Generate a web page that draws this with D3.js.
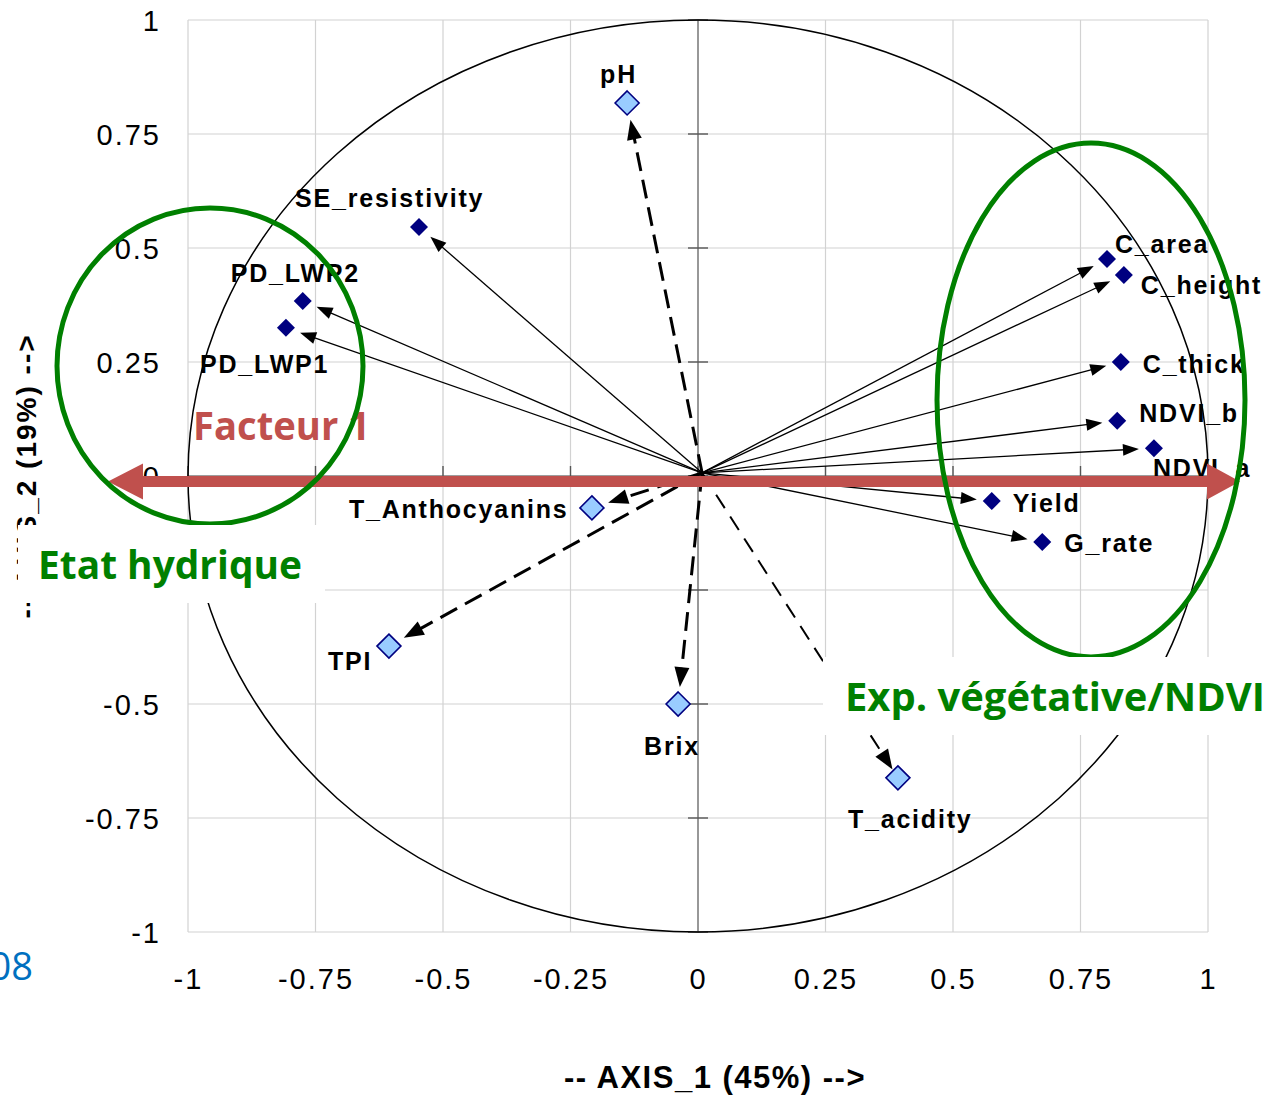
<!DOCTYPE html>
<html><head><meta charset="utf-8">
<script src="https://cdn.jsdelivr.net/npm/d3@7"></script>
<style>
html,body{margin:0;padding:0;background:#fff;}
svg{display:block;}
</style></head>
<body>
<svg id="chart" width="1286" height="1095"></svg>
<script>
// ---------- data ----------
const variables = ["pH","SE_resistivity","PD_LWP2","PD_LWP1","C_area","C_height","C_thick","NDVI_b","NDVI_a","Yield","G_rate","T_Anthocyanins","TPI","Brix","T_acidity"];
const axis1Values = [-0.139,-0.547,-0.775,-0.808,0.802,0.835,0.829,0.822,0.894,0.576,0.675,-0.208,-0.606,-0.039,0.392];
const axis2Values = [0.818,0.546,0.384,0.325,0.476,0.441,0.250,0.121,0.061,-0.055,-0.145,-0.070,-0.373,-0.500,-0.662];
const variableRole = ["supp","active","active","active","active","active","active","active","active","active","active","supp","supp","supp","supp"];
const arrowOrigin = [0.008, 0.007];
const tickValues = [-1,-0.75,-0.5,-0.25,0,0.25,0.5,0.75,1];
const tickLabels = ["-1","-0.75","-0.5","-0.25","0","0.25","0.5","0.75","1"];
const xTitle = "-- AXIS_1 (45%) -->";
const yTitle = "-- AXIS_2 (19%) -->";
const factorLabel = "Facteur 1";
const groupLabels = ["Etat hydrique","Exp. végétative/NDVI"];
const yearFragment = "2008";

// ---------- layout (pixels) ----------
const labelOffset = {
  "pH":[-27,-20], "SE_resistivity":[-124,-20], "PD_LWP2":[-72,-19], "PD_LWP1":[-86,45],
  "C_area":[8,-6], "C_height":[17,19], "C_thick":[22,11], "NDVI_b":[22,1], "NDVI_a":[-1,29],
  "Yield":[21,11], "G_rate":[22,10], "T_Anthocyanins":[-243,10], "TPI":[-61,24],
  "Brix":[-34,51], "T_acidity":[-50,50]
};

const svg = d3.select("#chart");
const x = d3.scaleLinear().domain([-1,1]).range([188,1208]);
const y = d3.scaleLinear().domain([-1,1]).range([932,20]);

const data = variables.map((n,i)=>({name:n, v1:axis1Values[i], v2:axis2Values[i], role:variableRole[i]}));

// grid
const grid = svg.append("g");
tickValues.forEach(t=>{
  grid.append("line").attr("x1",x(t)).attr("x2",x(t)).attr("y1",y(1)).attr("y2",y(-1))
    .attr("stroke","#d2d2d2").attr("stroke-width",1.2);
  grid.append("line").attr("y1",y(t)).attr("y2",y(t)).attr("x1",x(-1)).attr("x2",x(1))
    .attr("stroke","#d2d2d2").attr("stroke-width",1.2);
});
// zero axes
grid.append("line").attr("x1",x(0)).attr("x2",x(0)).attr("y1",y(1)).attr("y2",y(-1)).attr("stroke","#858585").attr("stroke-width",1.6);
grid.append("line").attr("y1",y(0)).attr("y2",y(0)).attr("x1",x(-1)).attr("x2",x(1)).attr("stroke","#858585").attr("stroke-width",1.6);
tickValues.forEach(t=>{
  grid.append("line").attr("x1",x(0)-10).attr("x2",x(0)+10).attr("y1",y(t)).attr("y2",y(t)).attr("stroke","#555").attr("stroke-width",1.4);
  grid.append("line").attr("x1",x(t)).attr("x2",x(t)).attr("y1",y(0)-10).attr("y2",y(0)+10).attr("stroke","#555").attr("stroke-width",1.4);
});

// tick labels via d3 axes
const fmt = d => tickLabels[tickValues.indexOf(d)];
const ya = svg.append("g").attr("transform",`translate(${x(-1)},0)`)
  .call(d3.axisLeft(y).tickValues(tickValues).tickFormat(fmt).tickSize(0).tickPadding(27));
const xa = svg.append("g").attr("transform",`translate(0,${y(-1)})`)
  .call(d3.axisBottom(x).tickValues(tickValues).tickFormat(fmt).tickSize(0).tickPadding(36));
[ya,xa].forEach(a=>{
  a.select(".domain").remove();
  a.selectAll("text").attr("font-family","'Liberation Sans', Arial, sans-serif")
    .attr("font-size",29).attr("fill","#000").style("letter-spacing","2px");
});
ya.selectAll("text").attr("dy","0.36em");

// unit circle
svg.append("ellipse").attr("cx",x(0)).attr("cy",y(0)).attr("rx",x(1)-x(0)).attr("ry",y(0)-y(1))
  .attr("fill","none").attr("stroke","#000").attr("stroke-width",1.5);

// arrows
const arrows = svg.append("g");
data.forEach(d=>{
  const sx = x(arrowOrigin[0]), sy = y(arrowOrigin[1]);
  const px = x(d.v1), py = y(d.v2);
  const L = Math.hypot(px-sx, py-sy);
  const ux = (px-sx)/L, uy = (py-sy)/L, nx = -uy, ny = ux;
  const supp = d.role==="supp";
  const thin = d.name==="T_acidity";
  const gap = supp ? (thin?10:17) : 15;
  const hl = supp ? 20 : 16, hw = supp ? 7.5 : 6;
  const tx = px-ux*gap, ty = py-uy*gap;
  const bx = tx-ux*hl, by = ty-uy*hl;
  arrows.append("line").attr("x1",sx).attr("y1",sy).attr("x2",bx+ux*2).attr("y2",by+uy*2)
    .attr("stroke","#000").attr("stroke-width", supp ? (thin?2:3) : 1.3)
    .attr("stroke-dasharray", supp ? (thin?"16,10":"19,9") : null);
  arrows.append("path").attr("d",`M${tx},${ty}L${bx+nx*hw},${by+ny*hw}L${bx-nx*hw},${by-ny*hw}Z`).attr("fill","#000");
});

// labels
const labels = svg.append("g");
data.forEach(d=>{
  const o = labelOffset[d.name];
  labels.append("text").attr("x",x(d.v1)+o[0]).attr("y",y(d.v2)+o[1])
    .attr("font-family","'Liberation Sans', Arial, sans-serif").attr("font-weight","bold")
    .attr("font-size",25).style("letter-spacing","1.8px").attr("fill","#000").text(d.name);
});

// diamonds
const pts = svg.append("g");
data.forEach(d=>{
  const cx = x(d.v1), cy = y(d.v2);
  const r = d.role==="supp" ? 12 : 9;
  pts.append("path").attr("d",`M${cx},${cy-r}L${cx+r},${cy}L${cx},${cy+r}L${cx-r},${cy}Z`)
    .attr("fill", d.role==="supp" ? "#99ccff" : "#000080")
    .attr("stroke", d.role==="supp" ? "#000080" : "none").attr("stroke-width",1.6);
});

// axis titles
svg.append("text").attr("x",715).attr("y",1088).attr("text-anchor","middle")
  .attr("font-family","'Liberation Sans', Arial, sans-serif").attr("font-weight","bold").attr("font-size",31)
  .style("letter-spacing","1.5px").text(xTitle);
svg.append("text").attr("transform","translate(36,476) rotate(-90)").attr("text-anchor","middle")
  .attr("font-family","'Liberation Sans', Arial, sans-serif").attr("font-weight","bold").attr("font-size",28)
  .style("letter-spacing","2px").text(yTitle);

// year fragment
svg.append("text").attr("x",33).attr("y",980).attr("text-anchor","end")
  .attr("font-family","'Open Sans', sans-serif").attr("font-size",38).attr("fill","#0070c0").text(yearFragment);

// Facteur 1 double arrow
const ay = y(0)+5.5, aL = 108, aR = 1240;
svg.append("path").attr("d",
  `M${aL},${ay}L${aL+35},${ay-18}L${aL+35},${ay-5.5}L${aR-33},${ay-5.5}L${aR-33},${ay-18}L${aR},${ay}L${aR-33},${ay+18}L${aR-33},${ay+5.5}L${aL+35},${ay+5.5}L${aL+35},${ay+18}Z`)
  .attr("fill","#c0504d");
svg.append("text").attr("x",193).attr("y",440).attr("font-family","'Open Sans', sans-serif").attr("font-weight","bold")
  .attr("font-size",39).attr("fill","#c0504d").attr("textLength",177).attr("lengthAdjust","spacingAndGlyphs").text(factorLabel);

// green ellipses
svg.append("ellipse").attr("cx",210).attr("cy",366).attr("rx",153).attr("ry",158)
  .attr("fill","none").attr("stroke","#008000").attr("stroke-width",5);
svg.append("ellipse").attr("cx",1091).attr("cy",400).attr("rx",154).attr("ry",257)
  .attr("fill","none").attr("stroke","#008000").attr("stroke-width",5);

// group label boxes
svg.append("rect").attr("x",18).attr("y",525).attr("width",307).attr("height",78).attr("fill","#fff");
svg.append("text").attr("x",38).attr("y",579).attr("font-family","'Open Sans', sans-serif").attr("font-weight","bold")
  .attr("font-size",40).attr("fill","#008000").attr("textLength",264).attr("lengthAdjust","spacingAndGlyphs").text(groupLabels[0]);
svg.append("rect").attr("x",823).attr("y",657).attr("width",463).attr("height",78).attr("fill","#fff");
svg.append("text").attr("x",845).attr("y",711).attr("font-family","'Open Sans', sans-serif").attr("font-weight","bold")
  .attr("font-size",40).attr("fill","#008000").attr("textLength",420).attr("lengthAdjust","spacingAndGlyphs").text(groupLabels[1]);
</script>
</body></html>
